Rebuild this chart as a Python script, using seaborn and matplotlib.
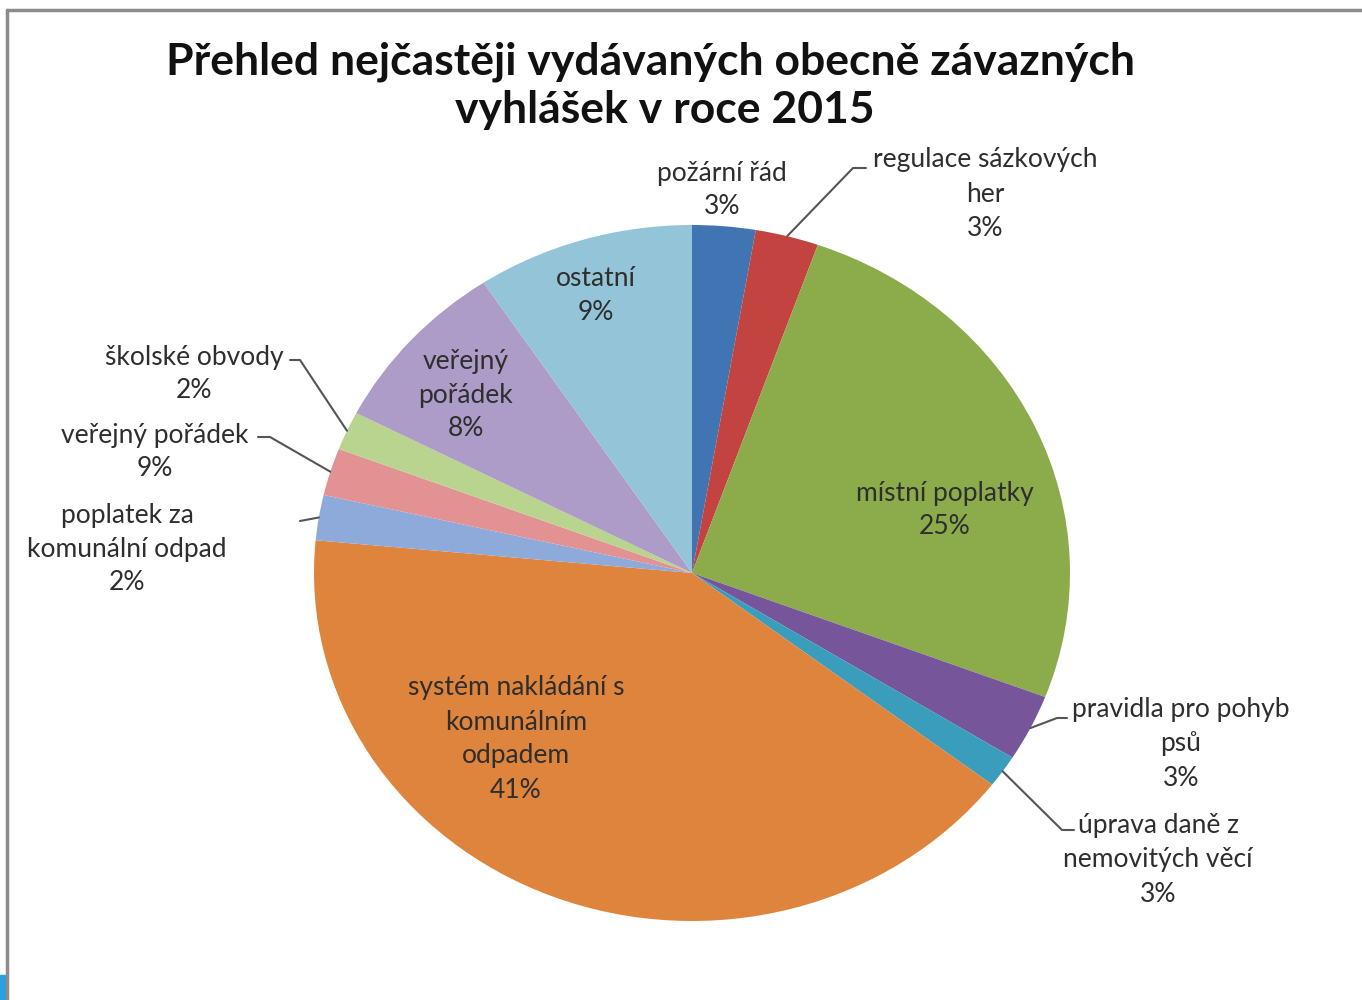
import numpy as np
import matplotlib
matplotlib.use("Agg")
import matplotlib.pyplot as plt
import seaborn as sns

# data (podíly, popisky tak, jak jsou v grafu)
categories = [
    "požární řád",
    "regulace sázkových\nher",
    "místní poplatky",
    "pravidla pro pohyb\npsů",
    "úprava daně z\nnemovitých věcí",
    "systém nakládání s\nkomunálním\nodpadem",
    "poplatek za\nkomunální odpad",
    "veřejný pořádek",
    "školské obvody",
    "veřejný\npořádek",
    "ostatní",
]
shares = [2.7, 2.7, 25.4, 3.1, 1.5, 41.1, 2.1, 2.2, 1.8, 8.1, 9.3]
shown_pct = ["3%", "3%", "25%", "3%", "3%", "41%", "2%", "9%", "2%", "8%", "9%"]
colors = ["#4174b3", "#c2433f", "#8cac4c", "#76559b", "#3a9dbb", "#de843c",
          "#8eaada", "#e39294", "#b9d48f", "#ad9bc8", "#93c4d8"]
title_lines = ["Přehled nejčastěji vydávaných obecně závazných",
               "vyhlášek v roce 2015"]

sns.set_theme(style="white")
plt.rcParams['font.family'] = ['Lato', 'DejaVu Sans']

W, H = 1362, 1000
cx, cy, rx, ry = 692, 573, 378, 348

fig = plt.figure(figsize=(W / 100, H / 100), dpi=100)
fig.patch.set_facecolor("white")

# koláč (mírně eliptický jako v originálu)
pax = fig.add_axes([(cx - rx) / W, 1 - (cy + ry) / H, 2 * rx / W, 2 * ry / H])
wedges, _ = pax.pie(shares, colors=colors, startangle=90, counterclock=False,
                    wedgeprops=dict(linewidth=0))
pax.set_aspect("auto")
pax.set_xlim(-1, 1)
pax.set_ylim(-1, 1)
pax.axis("off")

# horní osa v pixelech pro texty a čáry
bg = fig.add_axes([0, 0, 1, 1])
bg.set_xlim(0, W)
bg.set_ylim(H, 0)
bg.axis("off")
bg.patch.set_alpha(0)

# rámeček screenshotu
bg.plot([7, W], [10, 10], color="#8c8c8c", lw=2.5)
bg.plot([7, 7], [10, H], color="#8c8c8c", lw=2.5)
bg.add_patch(plt.Rectangle((0, 975), 5, 25, color="#2aa0e0"))

# nadpis (druhý řádek je v originálu mírně posunutý doprava)
for (tx, ty), line in zip([(651, 62), (665, 110)], title_lines):
    bg.text(tx, ty, line, ha="center", va="center", fontsize=32,
            fontweight="bold", color="#111111")

# pozice popisků: (x, y, lomení vodicí čáry nebo None)
label_pos = [
    (722, 190, None),
    (985, 194, [(853, 168), (866, 168)]),
    (945, 510, None),
    (1181, 744, [(1057, 718), (1067, 718)]),
    (1158, 860, [(1062, 830), (1074, 830)]),
    (516, 739, None),
    (127, 549, [(300, 521), (300, 521)]),
    (155, 452, [(270, 437), (258, 437)]),
    (194, 374, [(300, 360), (290, 360)]),
    (466, 395, None),
    (596, 296, None),
]

for w, cat, pct, (tx, ty, elbow) in zip(wedges, categories, shown_pct, label_pos):
    mid = np.deg2rad((w.theta1 + w.theta2) / 2)
    px = cx + rx * np.cos(mid)
    py = cy - ry * np.sin(mid)
    if elbow is not None:
        xs = [px] + [p[0] for p in elbow]
        ys = [py] + [p[1] for p in elbow]
        bg.plot(xs, ys, color="#555555", lw=1.5)
    bg.text(tx, ty, cat + "\n" + pct, ha="center", va="center", fontsize=19,
            color="#2e2e2e", linespacing=1.45)

fig.savefig("out.png", dpi=100)
